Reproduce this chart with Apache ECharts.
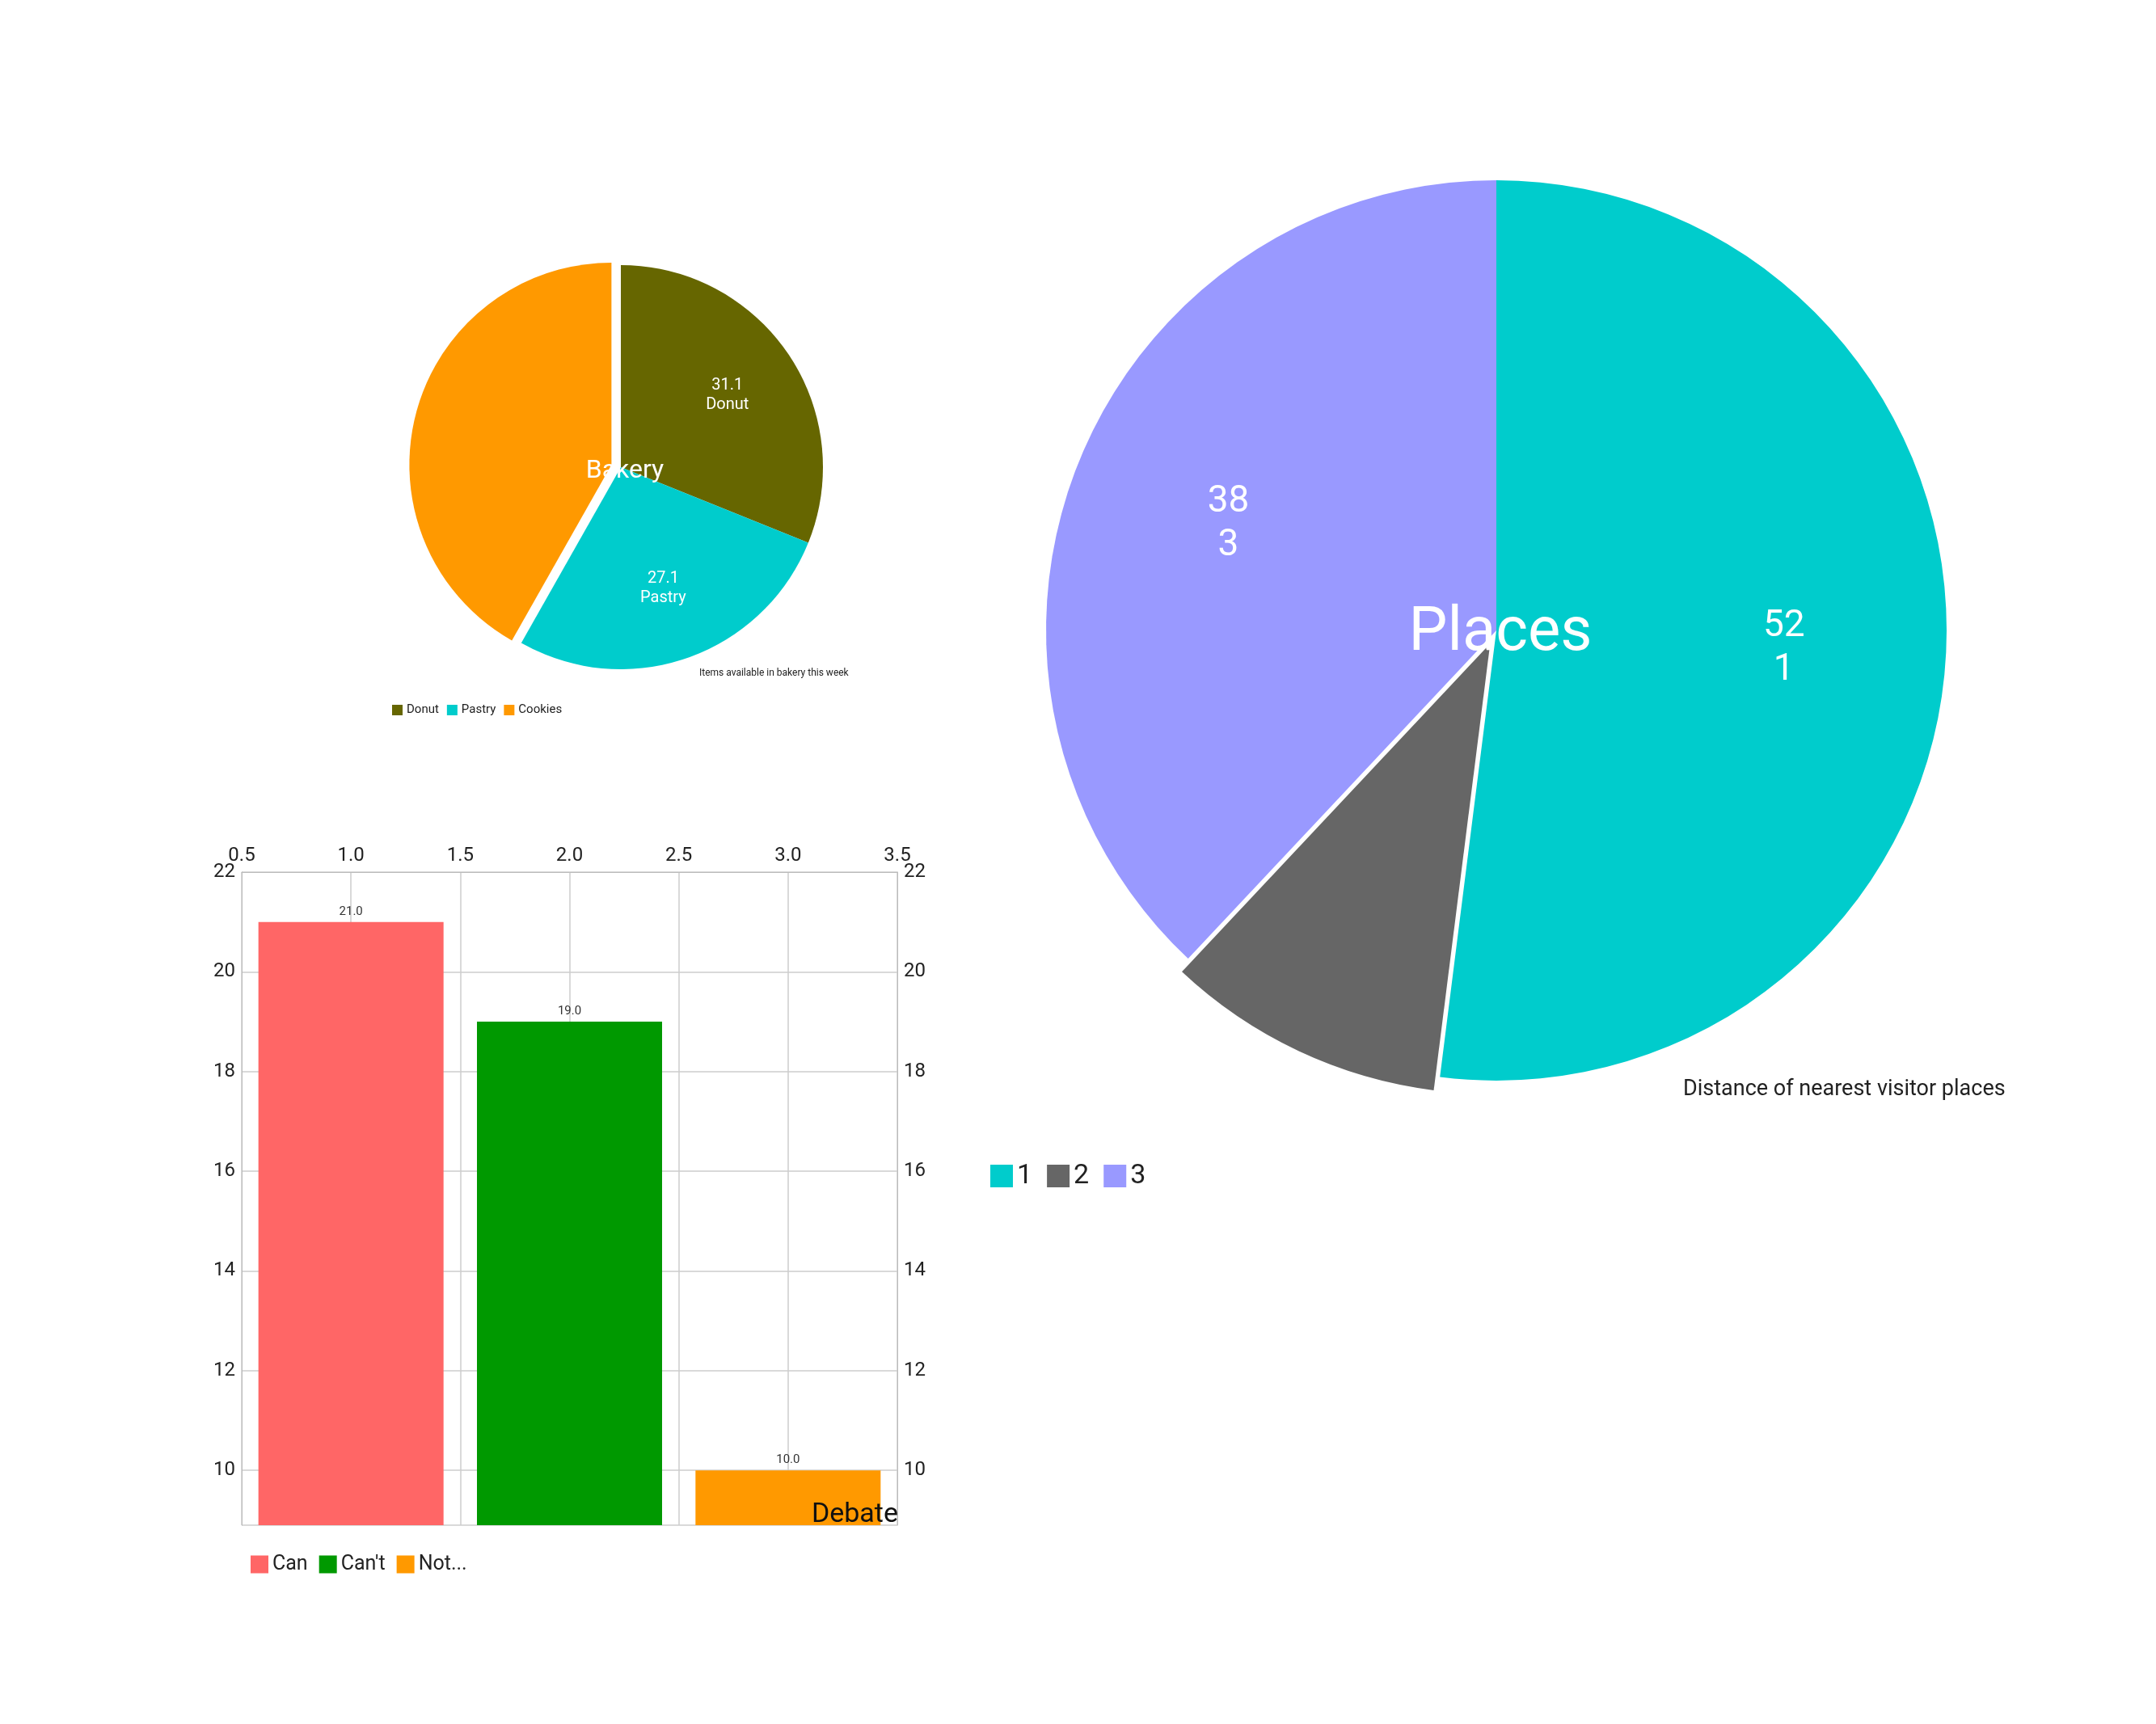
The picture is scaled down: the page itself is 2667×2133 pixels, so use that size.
<!DOCTYPE html>
<html>
<head>
<meta charset="utf-8">
<script src="https://cdn.jsdelivr.net/npm/echarts@6/dist/echarts.min.js"></script>
<style>html,body{margin:0;padding:0;background:#fff}#main{width:2667px;height:2133px}</style>
</head>
<body>
<div id="main"></div>
<script>
// bakery pie
var bakeryNames = ['Donut', 'Pastry', 'Cookies'];
var bakeryValues = [31.1, 27.1, 41.8];
var bakeryColors = ['#666600', '#00CCCC', '#FF9900'];
// places pie
var placeNames = ['1', '2', '3'];
var placeValues = [52, 10, 38];
var placeColors = ['#00CCCC', '#666666', '#9999FF'];
// debate bars
var barNames = ['Can', "Can't", 'Not...'];
var barX = [1, 2, 3];
var barValues = [21, 19, 10];
var barColors = ['#FF6666', '#009900', '#FF9900'];

var font = 'Roboto';
var chart = echarts.init(document.getElementById('main'));

function pieData(names, values, colors, explode) {
	var d = [];
	for (var i = 0; i < names.length; i++) {
		d.push({name: names[i], value: values[i], itemStyle: {color: colors[i]}, selected: i == explode});
	}
	return d;
}
function labelData(names, values) {
	var d = [];
	for (var i = 0; i < names.length; i++) {
		d.push({name: names[i], value: values[i]});
	}
	return d;
}

var series = [];
// main pie slices
series.push({
	type: 'pie', center: [768, 578], radius: [0, 250], startAngle: 90, clockwise: true,
	selectedMode: 'single', selectedOffset: 12, animation: false, silent: true,
	label: {show: false}, labelLine: {show: false},
	data: pieData(bakeryNames, bakeryValues, bakeryColors, 2)
});
series.push({
	type: 'pie', center: [1851, 780], radius: [0, 557], startAngle: 90, clockwise: true,
	selectedMode: 'single', selectedOffset: 18, animation: false, silent: true,
	label: {show: false}, labelLine: {show: false},
	data: pieData(placeNames, placeValues, placeColors, 1)
});
// transparent overlays to place labels further out
series.push({
	type: 'pie', center: [768, 578], radius: [62, 250], startAngle: 90, animation: false, silent: true,
	itemStyle: {color: 'rgba(0,0,0,0)'}, labelLine: {show: false},
	label: {show: true, position: 'inside', color: '#fff', fontFamily: font, fontSize: 20, lineHeight: 24,
		formatter: function(p) { return p.value.toFixed(1) + '\n' + p.name; }},
	data: labelData(bakeryNames, bakeryValues)
});
series.push({
	type: 'pie', center: [1851, 780], radius: [150, 557], startAngle: 90, animation: false, silent: true,
	itemStyle: {color: 'rgba(0,0,0,0)'}, labelLine: {show: false},
	label: {show: true, position: 'inside', color: '#fff', fontFamily: font, fontSize: 46, lineHeight: 54,
		formatter: function(p) { return p.value + '\n' + p.name; }},
	data: labelData(placeNames, placeValues)
});
// bars, stacked so they sit centred on their x value
for (var i = 0; i < barNames.length; i++) {
	series.push({
		type: 'bar', name: barNames[i], stack: 'b', barWidth: 229, animation: false,
		itemStyle: {color: barColors[i]},
		label: {show: true, position: 'top', color: '#333', fontFamily: font, fontSize: 15,
			formatter: function(p) { return p.value[1].toFixed(1); }},
		data: [[barX[i], barValues[i]]]
	});
}

var yAxisBase = {
	type: 'value', min: 8.9, max: 22, splitNumber: 6,
	axisLine: {show: true, lineStyle: {color: '#bbb'}}, axisTick: {show: false},
	axisLabel: {showMinLabel: false, color: '#222', fontFamily: font, fontSize: 24},
	splitLine: {show: true, lineStyle: {color: '#ccc', width: 1.5}}
};

var option = {
	backgroundColor: '#fff',
	title: [
		{text: 'Bakery', left: 768, top: 578, textAlign: 'center', textVerticalAlign: 'middle',
			textStyle: {color: '#fff', fontFamily: font, fontSize: 32, fontWeight: 'normal'}},
		{text: 'Items available in bakery this week', left: 860, top: 822,
			textStyle: {color: '#222', fontFamily: font, fontSize: 12, fontWeight: 'normal'}},
		{text: 'Places', left: 1851, top: 780, textAlign: 'center', textVerticalAlign: 'middle',
			textStyle: {color: '#fff', fontFamily: font, fontSize: 76, fontWeight: 'normal'}},
		{text: 'Distance of nearest visitor places', left: 2077, top: 1330,
			textStyle: {color: '#222', fontFamily: font, fontSize: 27, fontWeight: 'normal'}},
		{text: 'Debate', left: 1106, top: 1852, textAlign: 'right',
			textStyle: {color: '#111', fontFamily: font, fontSize: 34, fontWeight: 'normal'}}
	],
	legend: [
		{data: bakeryNames, left: 480, top: 866, icon: 'rect', itemWidth: 13, itemHeight: 13, itemGap: 10,
			textStyle: {color: '#222', fontFamily: font, fontSize: 15}},
		{data: placeNames, left: 1220, top: 1433, icon: 'rect', itemWidth: 28, itemHeight: 28, itemGap: 18,
			textStyle: {color: '#222', fontFamily: font, fontSize: 34}},
		{data: barNames, left: 305, top: 1918, icon: 'rect', itemWidth: 22, itemHeight: 22, itemGap: 14,
			textStyle: {color: '#222', fontFamily: font, fontSize: 25}}
	],
	grid: {left: 299, top: 1079, width: 811, height: 808},
	xAxis: {
		type: 'value', position: 'top', min: 0.5, max: 3.5, interval: 0.5,
		axisLine: {show: true, lineStyle: {color: '#bbb'}}, axisTick: {show: false},
		axisLabel: {color: '#222', fontFamily: font, fontSize: 24, formatter: function(v) { return v.toFixed(1); }},
		splitLine: {show: true, lineStyle: {color: '#ccc', width: 1.5}}
	},
	yAxis: [
		Object.assign({}, yAxisBase, {position: 'left'}),
		Object.assign({}, yAxisBase, {position: 'right', splitLine: {show: false}})
	],
	series: series
};
chart.setOption(option);
</script>
</body>
</html>
